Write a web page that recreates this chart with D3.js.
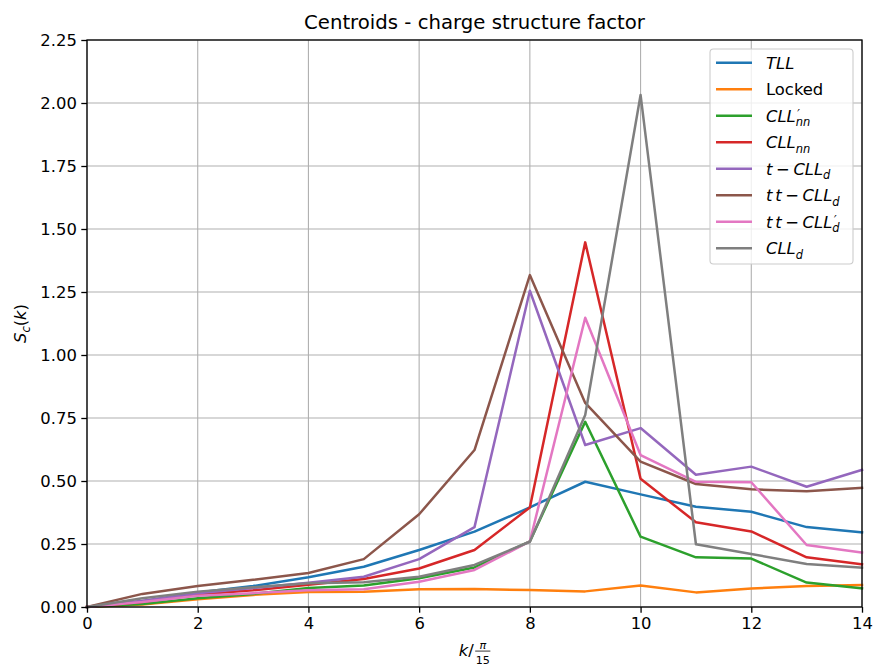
<!DOCTYPE html>
<html>
<head>
<meta charset="utf-8">
<script src="https://cdn.jsdelivr.net/npm/d3@7"></script>
<style>
  body { margin: 0; background: #fff; }
  svg { display: block; }
  text { font-family: "DejaVu Sans", sans-serif; fill: #000; }
</style>
</head>
<body>
<svg id="chart" width="877" height="669"></svg>
<script>
// Wave number index k (in units of pi/15)
const kValues = [0, 1, 2, 3, 4, 5, 6, 7, 8, 9, 10, 11, 12, 13, 14];

// Charge structure factor S_c(k) for each phase centroid
const sTLL      = [0, 0.022, 0.058, 0.083, 0.118, 0.160, 0.226, 0.299, 0.395, 0.497, 0.447, 0.398, 0.378, 0.317, 0.296];
const sLocked   = [0, 0.010, 0.031, 0.048, 0.060, 0.061, 0.070, 0.071, 0.067, 0.062, 0.085, 0.058, 0.073, 0.083, 0.087];
const sCLLnnP   = [0, 0.012, 0.035, 0.052, 0.075, 0.085, 0.114, 0.157, 0.260, 0.735, 0.279, 0.197, 0.192, 0.097, 0.074];
const sCLLnn    = [0, 0.020, 0.050, 0.066, 0.088, 0.111, 0.153, 0.226, 0.395, 1.447, 0.509, 0.336, 0.300, 0.197, 0.169];
const sTCLLd    = [0, 0.025, 0.055, 0.075, 0.096, 0.120, 0.190, 0.317, 1.255, 0.643, 0.710, 0.525, 0.557, 0.477, 0.544];
const sTTCLLd   = [0, 0.052, 0.083, 0.108, 0.135, 0.190, 0.368, 0.623, 1.317, 0.810, 0.577, 0.488, 0.467, 0.459, 0.473];
const sTTCLLdP  = [0, 0.020, 0.045, 0.055, 0.066, 0.070, 0.100, 0.147, 0.260, 1.148, 0.603, 0.497, 0.495, 0.246, 0.216];
const sCLLd     = [0, 0.035, 0.061, 0.078, 0.094, 0.098, 0.120, 0.167, 0.259, 0.762, 2.032, 0.249, 0.210, 0.171, 0.156];

const xTicks = [0, 2, 4, 6, 8, 10, 12, 14];
const yTicks = [0, 0.25, 0.5, 0.75, 1.0, 1.25, 1.5, 1.75, 2.0, 2.25];

const titleText = "Centroids - charge structure factor";

// Legend labels as math pieces: t = text run, it = italic, gap = space in em, sup/sub = scripts
const labelTLL     = [{t: "TLL", it: true}];
const labelLocked  = [{t: "Locked"}];
const labelCLLnnP  = [{t: "CLL", it: true}, {sup: "\u2032", sub: "nn"}];
const labelCLLnn   = [{t: "CLL", it: true}, {sub: "nn"}];
const labelTCLLd   = [{t: "t", it: true}, {gap: 0.22}, {t: "\u2212"}, {gap: 0.22}, {t: "CLL", it: true}, {sub: "d"}];
const labelTTCLLd  = [{t: "t", it: true}, {gap: 0.17}, {t: "t", it: true}, {gap: 0.22}, {t: "\u2212"}, {gap: 0.22}, {t: "CLL", it: true}, {sub: "d"}];
const labelTTCLLdP = [{t: "t", it: true}, {gap: 0.17}, {t: "t", it: true}, {gap: 0.22}, {t: "\u2212"}, {gap: 0.22}, {t: "CLL", it: true}, {sup: "\u2032", sub: "d"}];
const labelCLLd    = [{t: "CLL", it: true}, {sub: "d"}];

const series = [
  {label: labelTLL,     values: sTLL,     color: "#1f77b4"},
  {label: labelLocked,  values: sLocked,  color: "#ff7f0e"},
  {label: labelCLLnnP,  values: sCLLnnP,  color: "#2ca02c"},
  {label: labelCLLnn,   values: sCLLnn,   color: "#d62728"},
  {label: labelTCLLd,   values: sTCLLd,   color: "#9467bd"},
  {label: labelTTCLLd,  values: sTTCLLd,  color: "#8c564b"},
  {label: labelTTCLLdP, values: sTTCLLdP, color: "#e377c2"},
  {label: labelCLLd,    values: sCLLd,    color: "#7f7f7f"}
];

const W = 877, H = 669;
const margin = {left: 87, right: 15, top: 40, bottom: 62};
const fs = 16.4;

const svg = d3.select("#chart");
const x = d3.scaleLinear().domain([0, 14]).range([margin.left, W - margin.right]);
const y = d3.scaleLinear().domain([0, 2.25]).range([H - margin.bottom, margin.top]);

// Lay out a run of math pieces as tspans of one text element (baseline y = 0).
// A prime stacked over a subscript is written as a single tspan with
// per-glyph x/y positions, so both scripts share one column.
function rich(parent, pieces, size) {
  const g = parent.append("g");
  const txt = g.append("text").attr("x", 0).attr("y", 0).attr("font-size", size);
  let cx = 0;
  pieces.forEach(p => {
    if (p.gap != null) { cx += p.gap * size; return; }
    if (p.t != null) {
      const ts = txt.append("tspan").attr("x", cx).attr("y", 0)
        .attr("font-size", size)
        .attr("font-style", p.it ? "italic" : "normal")
        .text(p.t);
      cx += ts.node().getComputedTextLength();
    }
    if (p.sub != null) {
      const ss = size * 0.7;
      const subY = 0.27 * size;
      if (p.sup != null) {
        // measure each subscript glyph and the prime first
        const probe = txt.append("tspan").attr("font-size", ss).attr("font-style", "italic").text(p.sup);
        const primeW = probe.node().getComputedTextLength();
        const subChars = Array.from(p.sub);
        const widths = subChars.map(c => { probe.text(c); return probe.node().getComputedTextLength(); });
        probe.remove();
        // per-glyph positions: prime raised, subscript glyphs from the same column
        const xs = [cx + 0.1 * size];
        let sx = cx;
        subChars.forEach((c, i) => { xs.push(sx); sx += widths[i]; });
        const ys = [-0.2 * size].concat(subChars.map(() => subY));
        txt.append("tspan").attr("x", xs.join(" ")).attr("y", ys.join(" "))
          .attr("font-size", ss).attr("font-style", "italic")
          .text(p.sup + p.sub);
        cx += Math.max(sx - cx, primeW + 0.1 * size);
      } else {
        const ts = txt.append("tspan").attr("x", cx).attr("y", subY)
          .attr("font-size", ss).attr("font-style", "italic").text(p.sub);
        cx += ts.node().getComputedTextLength();
      }
    }
  });
  return {g, width: cx};
}

// Grid
const grid = svg.append("g");
grid.selectAll("line.gx").data(xTicks).join("line")
  .attr("x1", d => x(d)).attr("x2", d => x(d))
  .attr("y1", y(2.25)).attr("y2", y(0))
  .attr("stroke", "#b0b0b0").attr("stroke-width", 1.1);
grid.selectAll("line.gy").data(yTicks).join("line")
  .attr("y1", d => y(d)).attr("y2", d => y(d))
  .attr("x1", x(0)).attr("x2", x(14))
  .attr("stroke", "#b0b0b0").attr("stroke-width", 1.1);

// Series lines
const line = d3.line().x((d, i) => x(kValues[i])).y(d => y(d));
const plot = svg.append("g");
series.forEach(s => {
  plot.append("path").datum(s.values)
    .attr("d", line)
    .attr("fill", "none")
    .attr("stroke", s.color)
    .attr("stroke-width", 2.5)
    .attr("stroke-linejoin", "round")
    .attr("stroke-linecap", "square");
});

// Axes
const xAxis = d3.axisBottom(x).tickValues(xTicks).tickFormat(d3.format("d")).tickSizeOuter(0).tickSize(5.7).tickPadding(4.5);
const yAxis = d3.axisLeft(y).tickValues(yTicks).tickFormat(d3.format(".2f")).tickSizeOuter(0).tickSize(5.7).tickPadding(4.5);
const gx = svg.append("g").attr("transform", `translate(0,${y(0)})`).call(xAxis);
const gy = svg.append("g").attr("transform", `translate(${x(0)},0)`).call(yAxis);
[gx, gy].forEach(g => {
  g.select(".domain").remove();
  g.selectAll(".tick line").attr("stroke", "#000").attr("stroke-width", 1.3);
  g.selectAll(".tick text").attr("font-size", fs).attr("font-family", "DejaVu Sans").attr("fill", "#000");
});

// Frame
svg.append("rect")
  .attr("x", x(0)).attr("y", y(2.25))
  .attr("width", x(14) - x(0)).attr("height", y(0) - y(2.25))
  .attr("fill", "none").attr("stroke", "#000").attr("stroke-width", 1.3);

// Title
svg.append("text")
  .attr("x", (x(0) + x(14)) / 2).attr("y", 29)
  .attr("text-anchor", "middle")
  .attr("font-size", 19.7)
  .text(titleText);

// Y axis label S_c(k)
const yl = svg.append("g").attr("transform", `translate(26,${(y(0) + y(2.25)) / 2}) rotate(-90)`);
const ylr = rich(yl, [{t: "S", it: true}, {sub: "c"}, {t: "("}, {t: "k", it: true}, {t: ")"}], fs);
ylr.g.attr("transform", `translate(${-ylr.width / 2},0)`);

// X axis label k / (pi/15)
const xl = svg.append("g");
const xlr = rich(xl, [{t: "k", it: true}, {t: "/"}], fs);
const fsz = fs * 0.68;
const fx = xlr.width + 1.5;
const num = xlr.g.append("text").attr("y", -0.42 * fs).attr("font-size", fsz).attr("font-style", "italic").text("\u03c0");
const den = xlr.g.append("text").attr("y", 0.5 * fs).attr("font-size", fsz).text("15");
const fw = Math.max(num.node().getComputedTextLength(), den.node().getComputedTextLength()) + 1;
num.attr("x", fx + fw / 2).attr("text-anchor", "middle");
den.attr("x", fx + fw / 2).attr("text-anchor", "middle");
xlr.g.append("line").attr("x1", fx).attr("x2", fx + fw)
  .attr("y1", -0.3 * fs).attr("y2", -0.3 * fs)
  .attr("stroke", "#000").attr("stroke-width", 0.8);
const totalW = fx + fw;
xlr.g.attr("transform", `translate(${(x(0) + x(14)) / 2 - totalW / 2},656)`);

// Legend
const lg = svg.append("g");
const lx = 710, ly = 49, lw = 143, lh = 215;
lg.append("rect").attr("x", lx).attr("y", ly).attr("width", lw).attr("height", lh)
  .attr("rx", 3.5).attr("fill", "#fff").attr("fill-opacity", 0.8)
  .attr("stroke", "#cccccc").attr("stroke-width", 1.1);
series.forEach((s, i) => {
  const cy = 62.7 + i * 26.5;
  lg.append("line").attr("x1", 716).attr("x2", 752).attr("y1", cy).attr("y2", cy)
    .attr("stroke", s.color).attr("stroke-width", 2.5);
  const r = rich(lg, s.label, fs);
  r.g.attr("transform", `translate(766,${cy + 0.36 * fs})`);
});
</script>
</body>
</html>
